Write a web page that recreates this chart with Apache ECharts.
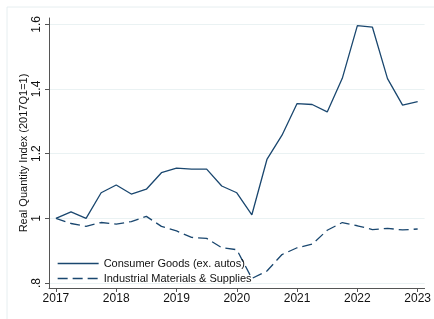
<!DOCTYPE html>
<html>
<head>
<meta charset="utf-8">
<script src="https://cdn.jsdelivr.net/npm/echarts@6/dist/echarts.min.js"></script>
<style>
    html, body { margin: 0; padding: 0; background: #fff; }
    #chart { width: 434px; height: 319px; }
</style>
</head>
<body>
<div id="chart"></div>
<script>
// quarterly, 2017Q1 .. 2023Q1
var quarters = [];
for (var i = 0; i < 25; i++) { quarters.push(2017 + i * 0.25); }

var consumer = [1.000, 1.020, 1.000, 1.079, 1.103, 1.075, 1.090, 1.141, 1.155, 1.152,
    1.152, 1.100, 1.079, 1.011, 1.182, 1.257, 1.355, 1.352, 1.329, 1.433,
    1.596, 1.591, 1.432, 1.350, 1.361];
var industrial = [1.000, 0.984, 0.975, 0.987, 0.982, 0.990, 1.006, 0.975, 0.961, 0.941,
    0.938, 0.909, 0.903, 0.814, 0.837, 0.888, 0.909, 0.920, 0.963, 0.987,
    0.977, 0.965, 0.969, 0.964, 0.967];

var xTicks = [2017, 2018, 2019, 2020, 2021, 2022, 2023];
var yTicks = [0.8, 1, 1.2, 1.4, 1.6];

function pairs(xs, ys) {
    return xs.map(function (x, i) { return [x, ys[i]]; });
}

var el = document.getElementById('chart');
var myChart = echarts.init(el);
var navy = '#1a476f';
var axisColor = '#555';
var font = "'Liberation Sans', Arial, sans-serif";

var option = {
    animation: false,
    textStyle: { fontFamily: font },
    graphic: [
        {
            type: 'rect',
            shape: { x: 7, y: 7, width: 600, height: 400 },
            style: { fill: 'none', stroke: '#e6eef0', lineWidth: 1 },
            silent: true
        }
    ],
    grid: {
        left: 49,
        right: 7,
        top: 18,
        bottom: 31
    },
    legend: {
        orient: 'vertical',
        left: 52,
        top: 253,
        itemWidth: 41,
        itemHeight: 12,
        itemGap: 4,
        itemStyle: { color: 'transparent', borderWidth: 0 },
        lineStyle: { width: 1.3 },
        textStyle: { fontSize: 11, color: '#111', fontFamily: font },
        data: ['Consumer Goods (ex. autos)', 'Industrial Materials & Supplies']
    },
    xAxis: {
        type: 'value',
        min: 2016.885,
        max: 2023.115,
        axisLine: { lineStyle: { color: axisColor, width: 1 } },
        axisTick: { customValues: xTicks, length: 4, lineStyle: { color: axisColor } },
        axisLabel: {
            customValues: xTicks,
            fontSize: 12,
            fontFamily: font,
            color: '#111',
            margin: 5,
            formatter: function (v) { return String(v); }
        },
        splitLine: { show: false }
    },
    yAxis: {
        type: 'value',
        min: 0.7845,
        max: 1.6195,
        name: 'Real Quantity Index (2017Q1=1)',
        nameLocation: 'middle',
        nameGap: 20,
        nameMoveOverlap: false,
        nameTextStyle: { fontSize: 11, color: '#111', fontFamily: font },
        axisLine: { show: true, lineStyle: { color: axisColor, width: 1 } },
        axisTick: { show: true, customValues: yTicks, length: 4, lineStyle: { color: axisColor } },
        axisLabel: {
            customValues: yTicks,
            rotate: 90,
            fontSize: 12,
            fontFamily: font,
            color: '#111',
            margin: 6,
            formatter: function (v) {
                var s = String(Math.round(v * 10) / 10);
                return s.replace(/^0\./, '.');
            }
        },
        splitLine: { show: true, lineStyle: { color: '#eaf2f3', width: 1 } }
    },
    series: [
        {
            name: 'Consumer Goods (ex. autos)',
            type: 'line',
            symbol: 'none',
            data: pairs(quarters, consumer),
            lineStyle: { color: navy, width: 1.3 },
            itemStyle: { color: navy }
        },
        {
            name: 'Industrial Materials & Supplies',
            type: 'line',
            symbol: 'none',
            data: pairs(quarters, industrial),
            lineStyle: { color: navy, width: 1.3, type: [10, 5] },
            itemStyle: { color: navy }
        }
    ]
};

myChart.setOption(option);
</script>
</body>
</html>
